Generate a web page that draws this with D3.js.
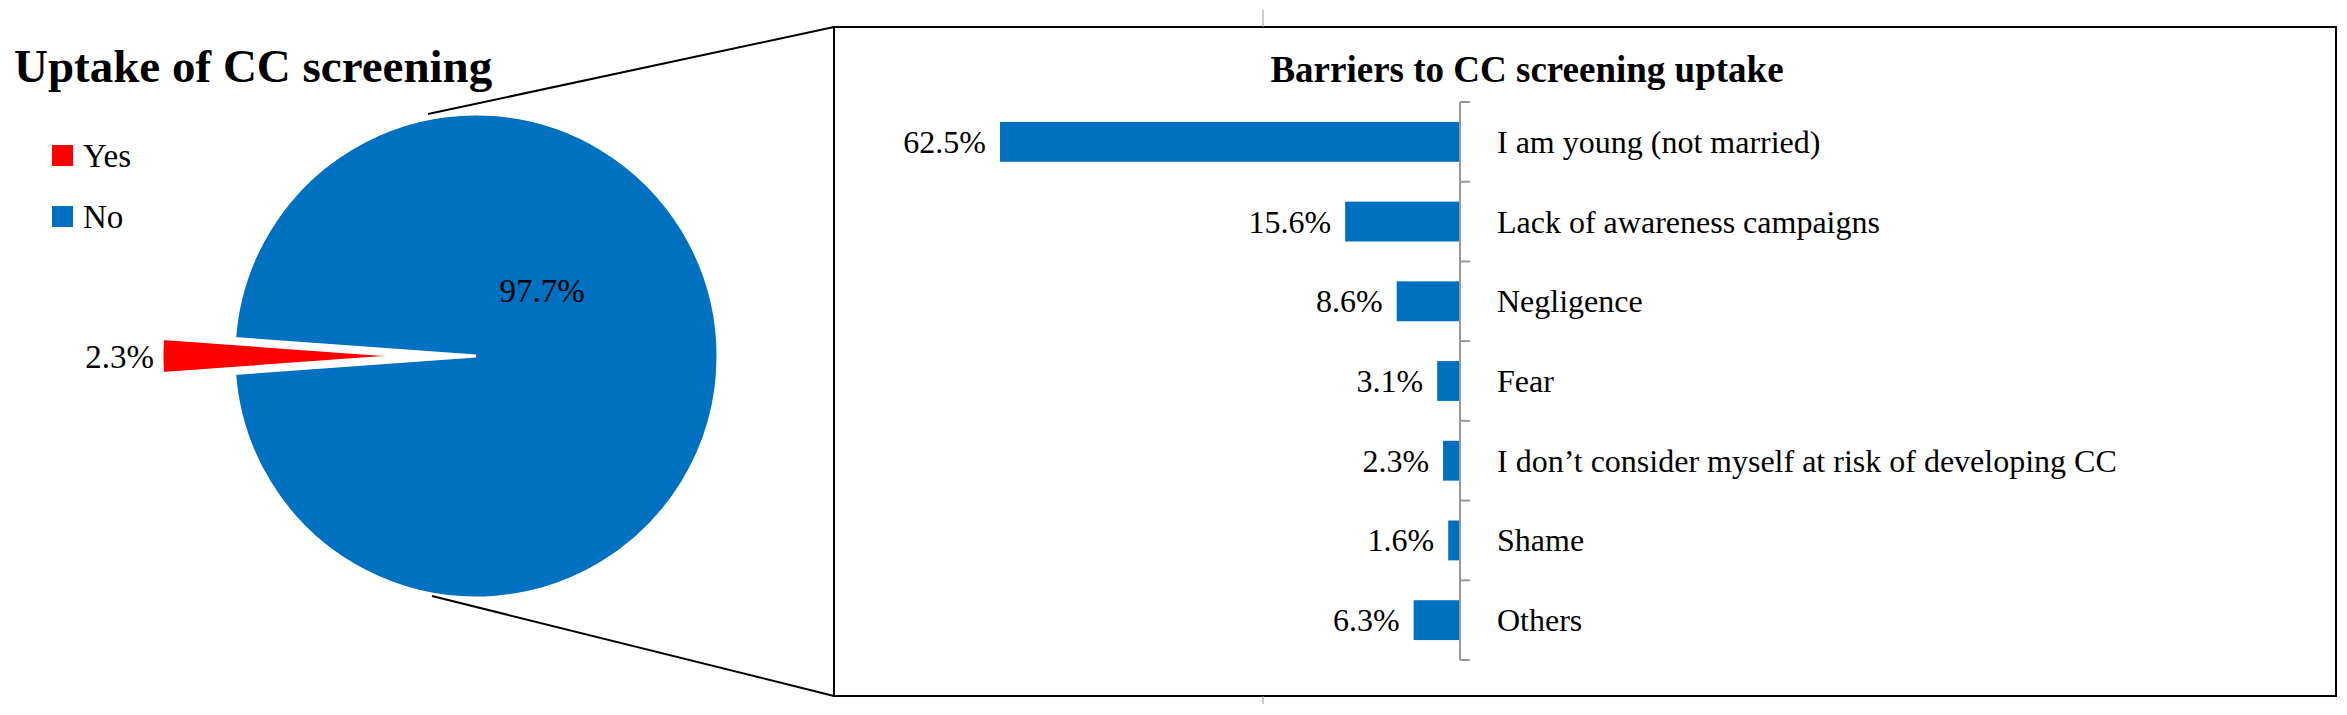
<!DOCTYPE html><html><head><meta charset="utf-8">
<script src="https://cdn.jsdelivr.net/npm/d3@7"></script>
<style>body{margin:0;background:#fff}text{font-family:"Liberation Serif",serif}</style></head>
<body><svg id="c" width="2347" height="715"></svg>
<script>
const pieLabels=["Yes","No"];
const pieValues=[2.3,97.7];
const pieColors=["#ff0000","#0070c0"];
const barCats=["I am young (not married)","Lack of awareness campaigns","Negligence","Fear","I don’t consider myself at risk of developing CC","Shame","Others"];
const barValues=[62.5,15.6,8.6,3.1,2.3,1.6,6.3];

const svg=d3.select("#c");
// pie
const cx=476,cy=356,R=242;
svg.append("text").attr("x",14).attr("y",82).attr("font-size",47).attr("font-weight","bold").text("Uptake of CC screening");
const pie=d3.pie().sort(null).startAngle(-Math.PI/2 - pieValues[0]/100*Math.PI).endAngle(1.5*Math.PI - pieValues[0]/100*Math.PI);
// start so "Yes" slice centered at 270deg (left)
const arcs=pie(pieValues);
const arc=d3.arc().innerRadius(0).outerRadius(R);
arcs.forEach((a,i)=>{
  const mid=(a.startAngle+a.endAngle)/2;
  const off=i===0?72:0;
  const dx=Math.sin(mid)*off, dy=-Math.cos(mid)*off;
  svg.append("path").attr("d",arc(a)).attr("transform",`translate(${cx+dx},${cy+dy})`).attr("fill",pieColors[i]).attr("stroke","#fff").attr("stroke-width",3);
});
svg.append("text").attr("x",542).attr("y",302).attr("font-size",33).attr("text-anchor","middle").text(pieValues[1].toFixed(1)+"%");
svg.append("text").attr("x",154).attr("y",368).attr("font-size",33).attr("text-anchor","end").text(pieValues[0].toFixed(1)+"%");
// legend
pieLabels.forEach((l,i)=>{
  const y=156+i*61;
  svg.append("rect").attr("x",52).attr("y",y-11).attr("width",21).attr("height",21).attr("fill",pieColors[i]);
  svg.append("text").attr("x",83).attr("y",y+11).attr("font-size",33).text(l);
});
// connectors and box
svg.append("line").attr("x1",428).attr("y1",114).attr("x2",834).attr("y2",27).attr("stroke","#000").attr("stroke-width",2);
svg.append("line").attr("x1",432).attr("y1",596).attr("x2",834).attr("y2",696).attr("stroke","#000").attr("stroke-width",2);
svg.append("rect").attr("x",834).attr("y",27).attr("width",1502).attr("height",669).attr("fill","none").attr("stroke","#000").attr("stroke-width",2);
svg.append("line").attr("x1",1263).attr("y1",10).attr("x2",1263).attr("y2",27).attr("stroke","#999");
svg.append("line").attr("x1",1263).attr("y1",696).attr("x2",1263).attr("y2",704).attr("stroke","#999");
// bar chart
svg.append("text").attr("x",1527).attr("y",82).attr("font-size",37).attr("font-weight","bold").attr("text-anchor","middle").text("Barriers to CC screening uptake");
const ax=1460;
const x=d3.scaleLinear().domain([0,62.5]).range([ax,1000]);
const y=d3.scaleBand().domain(barCats).range([102,660]).paddingInner(0.5).paddingOuter(0.25);
const yb=d3.scaleBand().domain(barCats).range([102,660]);
svg.selectAll("rect.bar").data(barValues).enter().append("rect").attr("class","bar")
 .attr("x",d=>x(d)).attr("width",d=>ax-x(d)).attr("y",(d,i)=>y(barCats[i])).attr("height",y.bandwidth()).attr("fill","#0070c0");
svg.selectAll("text.v").data(barValues).enter().append("text").attr("class","v")
 .attr("x",d=>x(d)-14).attr("y",(d,i)=>y(barCats[i])+y.bandwidth()/2+11).attr("text-anchor","end").attr("font-size",32).text(d=>d.toFixed(1)+"%");
svg.selectAll("text.c").data(barCats).enter().append("text").attr("class","c")
 .attr("x",1497).attr("y",d=>y(d)+y.bandwidth()/2+11).attr("font-size",32).text(d=>d);
svg.append("line").attr("x1",ax).attr("x2",ax).attr("y1",102).attr("y2",660).attr("stroke","#999").attr("stroke-width",2);
const ticks=barCats.map(c=>yb(c)).concat([660]);
svg.selectAll("line.t").data(ticks).enter().append("line").attr("x1",ax).attr("x2",ax+10).attr("y1",d=>d).attr("y2",d=>d).attr("stroke","#999").attr("stroke-width",2);
</script></body></html>
